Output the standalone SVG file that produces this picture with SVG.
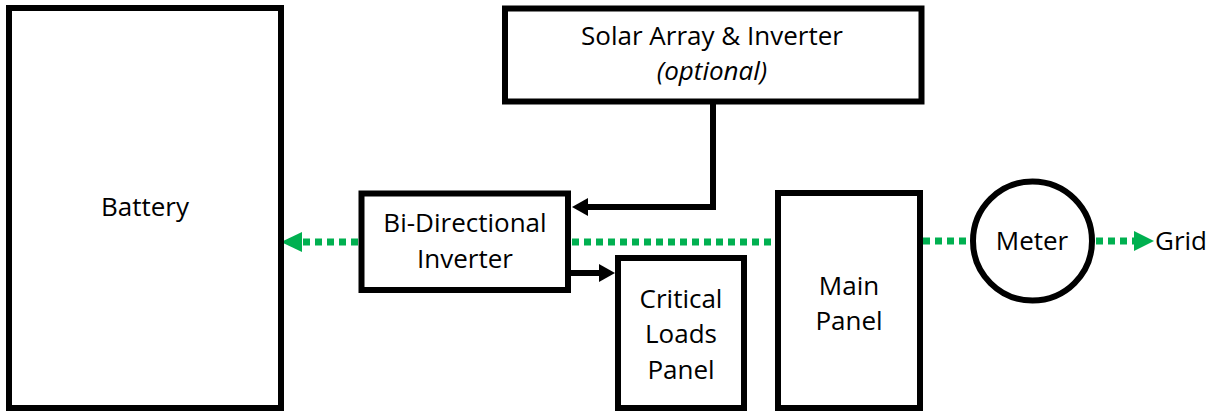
<svg xmlns="http://www.w3.org/2000/svg" width="1214" height="413" viewBox="0 0 1214 413">
<style>
.box{fill:#fff;stroke:#000;stroke-width:6}
.t{font-family:"Open Sans","Liberation Sans",sans-serif;font-size:26px;fill:#000;text-anchor:middle}
.i{font-style:italic}
.wire{fill:none;stroke:#000;stroke-width:6}
.ac{fill:none;stroke:#00b050;stroke-width:7;stroke-dasharray:7 5}
.gh{fill:#00b050}
.bh{fill:#000}
</style>
<rect width="1214" height="413" fill="#fff"/>
<g id="connectors">
<path class="wire" d="M713,101.5 V207 H586"/>
<polygon class="bh" points="572,207 588,198 588,216"/>
<path class="wire" d="M571,273 H601"/>
<polygon class="bh" points="615,273 599,264 599,282"/>
<path class="ac" d="M358,242 H300"/>
<polygon class="gh" points="281,242 302,232 302,252"/>
<path class="ac" d="M572,242 H775"/>
<path class="ac" d="M923,241 H971"/>
<path class="ac" d="M1096,241 H1135"/>
<polygon class="gh" points="1154,241 1134,231 1134,251"/>
</g>
<g id="battery">
<rect class="box" x="9" y="8" width="272" height="400"/>
<text class="t" x="145" y="216">Battery</text>
</g>
<g id="solar">
<rect class="box" x="505" y="8.5" width="416.5" height="93"/>
<text class="t" x="712" y="45">Solar Array &amp; Inverter</text>
<text class="t i" x="712" y="80">(optional)</text>
</g>
<g id="inverter">
<rect class="box" x="361.5" y="193.5" width="206.5" height="96.5"/>
<text class="t" x="465" y="232">Bi-Directional</text>
<text class="t" x="465" y="268">Inverter</text>
</g>
<g id="critical">
<rect class="box" x="618" y="258" width="126" height="150"/>
<text class="t" x="681" y="308">Critical</text>
<text class="t" x="681" y="343">Loads</text>
<text class="t" x="681" y="379">Panel</text>
</g>
<g id="main">
<rect class="box" x="778" y="193" width="142" height="215"/>
<text class="t" x="849" y="295">Main</text>
<text class="t" x="849" y="330">Panel</text>
</g>
<g id="meter">
<circle class="box" cx="1032.5" cy="241" r="59.5"/>
<text class="t" x="1032" y="250">Meter</text>
</g>
<g id="grid">
<text class="t" x="1181" y="250">Grid</text>
</g>
</svg>
